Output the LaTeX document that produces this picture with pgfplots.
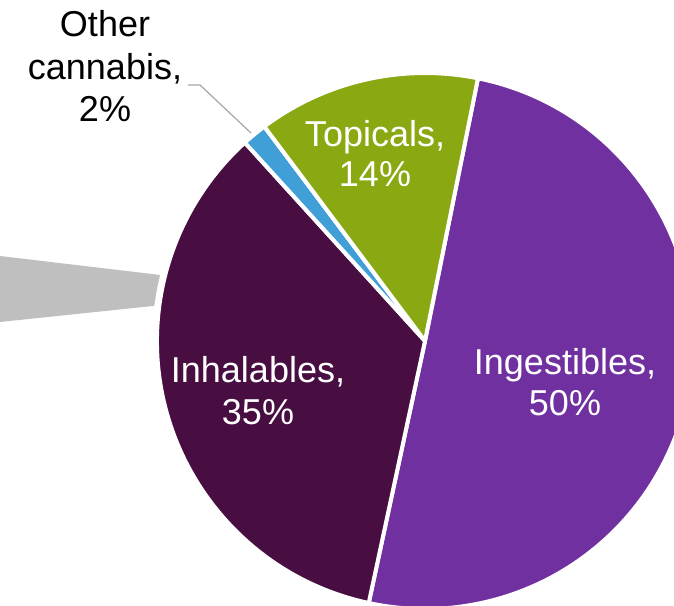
\documentclass[border=0pt]{standalone}
\usepackage{pgfplots}
\usepackage{pgfplotstable}
\pgfplotsset{compat=1.18}
\usepackage{fontspec}
\setmainfont{Liberation Sans}
\definecolor{ingest}{RGB}{112,48,160}
\definecolor{inhal}{RGB}{72,14,66}
\definecolor{other}{RGB}{65,159,216}
\definecolor{topic}{RGB}{137,168,18}
\definecolor{wedge}{RGB}{191,191,191}
\definecolor{leader}{RGB}{166,166,166}

\pgfplotstableread{
name value col
Ingestibles 50.2 ingest
Inhalables 34.9 inhal
Other 1.5 other
Topicals 13.4 topic
}\piedata

\begin{document}
\begin{tikzpicture}[lbl/.style={anchor=base, inner sep=0pt, font=\fontsize{18}{21}\selectfont}]
\begin{axis}[hide axis, scale only axis, width=337pt, height=302.5pt,
  xmin=0, xmax=674, ymin=0, ymax=605, clip=true]
% grey wedge (part of a neighbouring chart)
\fill[wedge] (axis cs:425,264) ++(166:136.5pt) arc[start angle=166, end angle=172.6, radius=136.5pt] -- (axis cs:0,283) -- (axis cs:0,349) -- cycle;
\pgfplotstablegetrowsof{\piedata}
\pgfmathtruncatemacro{\nrows}{\pgfplotsretval-1}
\xdef\angstart{78.6}
\pgfplotsforeachungrouped \i in {0,...,\nrows}{%
  \pgfplotstablegetelem{\i}{value}\of{\piedata}\let\v\pgfplotsretval
  \pgfplotstablegetelem{\i}{col}\of{\piedata}\let\c\pgfplotsretval
  \pgfmathsetmacro{\aend}{\angstart-3.6*\v}%
  \edef\temp{\noexpand\fill[\c, draw=white, line width=2pt, line join=round] (axis cs:425,264) -- ++(\angstart:134pt) arc[start angle=\angstart, end angle=\aend, radius=134pt] -- cycle;}%
  \temp
  \xdef\angstart{\aend}%
}
% leader line
\draw[leader, line width=0.6pt] (axis cs:188,520) -- (axis cs:200,520) -- (axis cs:251,472);
% labels
\node[lbl, white] at (axis cs:565,230) {Ingestibles,};
\node[lbl, white] at (axis cs:565,189) {50\%};
\node[lbl, white] at (axis cs:258,222) {Inhalables,};
\node[lbl, white] at (axis cs:258,180) {35\%};
\node[lbl, white] at (axis cs:375,458) {Topicals,};
\node[lbl, white] at (axis cs:375,418) {14\%};
\node[lbl, black] at (axis cs:105,568) {Other};
\node[lbl, black] at (axis cs:105,525) {cannabis,};
\node[lbl, black] at (axis cs:105,483) {2\%};
\end{axis}
\pgfresetboundingbox
\useasboundingbox (current axis.south west) rectangle (current axis.north east);
\end{tikzpicture}
\end{document}
